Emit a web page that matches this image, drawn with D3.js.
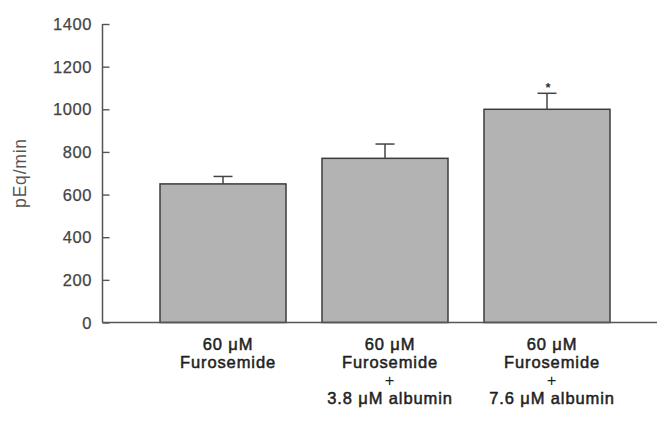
<!DOCTYPE html>
<html>
<head>
<meta charset="utf-8">
<script src="https://cdn.jsdelivr.net/npm/d3@7"></script>
<style>
  body { margin: 0; background: #fff; }
  text { font-family: "Liberation Sans", Arial, sans-serif; }
</style>
</head>
<body>
<div id="chart"></div>
<script>
// data
const categories = ["furo", "furo_alb38", "furo_alb76"];
const categoryLines = [
  ["60 μM", "Furosemide"],
  ["60 μM", "Furosemide", "+", "3.8 μM albumin"],
  ["60 μM", "Furosemide", "+", "7.6 μM albumin"]
];
const values = [650, 770, 1000];
const errors = [35, 67, 75];
const marks = ["", "", "*"];
const yTicks = [0, 200, 400, 600, 800, 1000, 1200, 1400];

(function () {
  const width = 657;
  const height = 422;

  const svg = d3.select("#chart")
    .append("svg")
    .attr("width", width)
    .attr("height", height);

  const axisX = 102.5;
  const xPositionScale = d3.scaleBand()
    .domain(categories)
    .range([142, 628])
    .paddingInner(0.2222)
    .paddingOuter(0.1111);
  const yPositionScale = d3.scaleLinear().domain([0, 1400]).range([322.5, 24]);

  const rows = categories.map((c, i) => ({
    key: c, lines: categoryLines[i], value: values[i], err: errors[i], mark: marks[i]
  }));

  // bars
  svg.selectAll(".bar")
    .data(rows)
    .enter().append("rect")
    .attr("class", "bar")
    .attr("x", d => xPositionScale(d.key))
    .attr("y", d => yPositionScale(d.value))
    .attr("width", xPositionScale.bandwidth())
    .attr("height", d => yPositionScale(0) - yPositionScale(d.value))
    .attr("fill", "#b3b3b3")
    .attr("stroke", "#3d3d3d")
    .attr("stroke-width", 1.5);

  // error bars (upper only)
  const errG = svg.selectAll(".err")
    .data(rows)
    .enter().append("g")
    .attr("class", "err")
    .attr("stroke", "#444")
    .attr("stroke-width", 1.5);
  errG.append("line")
    .attr("x1", d => xPositionScale(d.key) + xPositionScale.bandwidth() / 2)
    .attr("x2", d => xPositionScale(d.key) + xPositionScale.bandwidth() / 2)
    .attr("y1", d => yPositionScale(d.value))
    .attr("y2", d => yPositionScale(d.value + d.err));
  errG.append("line")
    .attr("x1", d => xPositionScale(d.key) + xPositionScale.bandwidth() / 2 - 9.5)
    .attr("x2", d => xPositionScale(d.key) + xPositionScale.bandwidth() / 2 + 9.5)
    .attr("y1", d => yPositionScale(d.value + d.err))
    .attr("y2", d => yPositionScale(d.value + d.err));

  // significance marker
  svg.selectAll(".mark")
    .data(rows.filter(d => d.mark))
    .enter().append("text")
    .attr("class", "mark")
    .attr("x", d => xPositionScale(d.key) + xPositionScale.bandwidth() / 2 + 1)
    .attr("y", d => yPositionScale(d.value + d.err) - 1)
    .attr("text-anchor", "middle")
    .attr("font-size", "13px")
    .attr("font-weight", "bold")
    .attr("fill", "#333")
    .text(d => d.mark);

  // y axis, ticks point inward
  const yAxis = d3.axisRight(yPositionScale)
    .tickValues(yTicks)
    .tickSize(7)
    .tickFormat("");
  const yAxisG = svg.append("g")
    .attr("transform", "translate(" + axisX + ",0)")
    .call(yAxis);
  yAxisG.select(".domain").remove();
  yAxisG.selectAll(".tick line").attr("stroke", "#555").attr("stroke-width", 1.4);
  svg.append("line")
    .attr("x1", axisX).attr("x2", axisX)
    .attr("y1", yPositionScale(1400)).attr("y2", yPositionScale(0))
    .attr("stroke", "#555").attr("stroke-width", 1.5);

  svg.selectAll(".ylabel")
    .data(yTicks)
    .enter().append("text")
    .attr("class", "ylabel")
    .attr("x", 92)
    .attr("y", d => yPositionScale(d) + 6)
    .attr("text-anchor", "end")
    .attr("font-size", "16.5px")
    .attr("letter-spacing", "0.6px")
    .attr("fill", "#444")
    .attr("stroke", "#444")
    .attr("stroke-width", 0.25)
    .text(d => d);

  // baseline across the plot
  svg.append("line")
    .attr("x1", axisX).attr("x2", width)
    .attr("y1", yPositionScale(0)).attr("y2", yPositionScale(0))
    .attr("stroke", "#555").attr("stroke-width", 1.5);

  // y title
  svg.append("text")
    .attr("transform", "translate(26,173) rotate(-90)")
    .attr("text-anchor", "middle")
    .attr("font-size", "17.5px")
    .attr("letter-spacing", "0.8px")
    .attr("fill", "#555")
    .text("pEq/min");

  // category labels
  const labelG = svg.selectAll(".cat")
    .data(rows)
    .enter().append("text")
    .attr("class", "cat")
    .attr("text-anchor", "middle")
    .attr("font-size", "16.5px")
    .attr("letter-spacing", "0.9px")
    .attr("fill", "#1e1e1e")
    .attr("stroke", "#1e1e1e")
    .attr("stroke-width", 0.5);
  labelG.selectAll("tspan")
    .data(d => d.lines.map(l => ({ key: d.key, line: l })))
    .enter().append("tspan")
    .attr("x", d => xPositionScale(d.key) + xPositionScale.bandwidth() / 2 + 5)
    .attr("y", (d, i) => 350 + i * 18)
    .attr("stroke-width", d => d.line === "+" ? 0 : 0.5)
    .text(d => d.line);
})();
</script>
</body>
</html>
